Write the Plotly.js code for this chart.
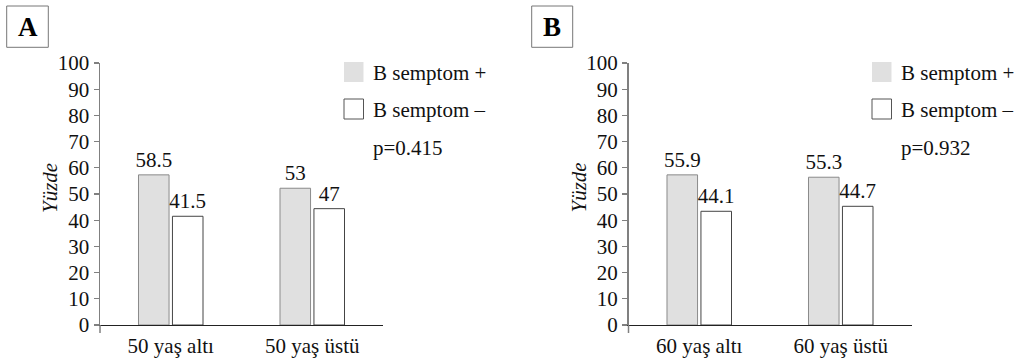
<!DOCTYPE html>
<html>
<head>
<meta charset="utf-8">
<script src="https://cdn.plot.ly/plotly-3.0.1.min.js"></script>
<style>
  html, body { margin: 0; padding: 0; background: #fff; }
  #chart { width: 1018px; height: 358px; }
</style>
</head>
<body>
<div id="chart"></div>
<script>
// ---- data ----
const categoriesA = ['50 yaş altı', '50 yaş üstü'];
const categoriesB = ['60 yaş altı', '60 yaş üstü'];
const seriesNames = ['B semptom +', 'B semptom –'];
// bar heights as drawn
const barsA_pos = [57.3, 52.2];
const barsA_neg = [41.5, 44.4];
const barsB_pos = [57.3, 56.4];
const barsB_neg = [43.4, 45.3];
// value labels as printed
const labelsA_pos = ['58.5', '53'];
const labelsA_neg = ['41.5', '47'];
const labelsB_pos = ['55.9', '55.3'];
const labelsB_neg = ['44.1', '44.7'];
const pValues = ['p=0.415', 'p=0.932'];
const panelLetters = ['A', 'B'];
const yTickVals = [0, 10, 20, 30, 40, 50, 60, 70, 80, 90, 100];
const yTitle = 'Yüzde';

// ---- layout helpers ----
const W = 1018, H = 358;
const px = x => x / W;
const py = y => 1 - y / H;
const FONT = 'Liberation Serif';
const FS = 21;
const GRAY = '#e0e0e0';

const barW = 0.216;
function barTrace(xa, ya, cats, vals, labels, isPos, name) {
  return {
    type: 'bar', x: cats, y: vals, text: labels, name: name,
    xaxis: xa, yaxis: ya,
    width: barW, offset: isPos ? -0.228 : 0.012,
    marker: { color: isPos ? GRAY : '#ffffff', line: { color: isPos ? '#8a8a8a' : '#444444', width: 1 } },
    textposition: 'outside', cliponaxis: false, constraintext: 'none',
    textfont: { family: FONT, size: FS, color: '#111' },
    showlegend: false, hoverinfo: 'skip'
  };
}

const data = [
  barTrace('x', 'y', categoriesA, barsA_pos, labelsA_pos, true, seriesNames[0]),
  barTrace('x', 'y', categoriesA, barsA_neg, labelsA_neg, false, seriesNames[1]),
  barTrace('x2', 'y2', categoriesB, barsB_pos, labelsB_pos, true, seriesNames[0]),
  barTrace('x2', 'y2', categoriesB, barsB_neg, labelsB_neg, false, seriesNames[1])
];

const yDom = [py(325), py(63)];
function xAxis(dom, anchor) {
  return {
    domain: dom, anchor: anchor, type: 'category', range: [-0.5, 1.5],
    showline: true, linecolor: '#222', linewidth: 1,
    ticks: 'outside', ticklen: 2, tickcolor: 'rgba(0,0,0,0)',
    showgrid: false, zeroline: false, fixedrange: true,
    tickfont: { family: FONT, size: FS, color: '#111' }
  };
}
function yAxis(anchor) {
  return {
    domain: yDom, anchor: anchor, range: [0, 100],
    tickvals: yTickVals, ticktext: yTickVals.map(String),
    showline: true, linecolor: '#808080', linewidth: 1.5,
    ticks: 'outside', ticklen: 5, tickcolor: '#808080', tickwidth: 1.2,
    showgrid: false, zeroline: false, fixedrange: true,
    tickfont: { family: FONT, size: FS, color: '#111' }
  };
}

const panels = [
  { axisX: 100, letterBox: [6.7, 48.3], legX: 344, txtX: 371, p: pValues[0], letter: panelLetters[0] },
  { axisX: 628.5, letterBox: [531.7, 572.7], legX: 872, txtX: 899, p: pValues[1], letter: panelLetters[1] }
];

const shapes = [];
const annotations = [];
panels.forEach(pn => {
  shapes.push({ type: 'line', xref: 'paper', yref: 'paper', x0: px(pn.axisX), x1: px(pn.axisX), y0: py(325), y1: py(333), line: { color: '#808080', width: 1.5 } });
  shapes.push({ type: 'rect', xref: 'paper', yref: 'paper', x0: px(pn.letterBox[0]), x1: px(pn.letterBox[1]), y0: py(47.3), y1: py(6), line: { color: '#777', width: 1 }, fillcolor: 'rgba(0,0,0,0)' });
  annotations.push({ xref: 'paper', yref: 'paper', x: px((pn.letterBox[0] + pn.letterBox[1]) / 2), y: py(27), text: '<b>' + pn.letter + '</b>', showarrow: false, xanchor: 'center', yanchor: 'middle', font: { family: FONT, size: 27, color: '#000' } });
  shapes.push({ type: 'rect', xref: 'paper', yref: 'paper', x0: px(pn.legX), x1: px(pn.legX + 19.5), y0: py(82), y1: py(62), line: { width: 0 }, fillcolor: GRAY });
  shapes.push({ type: 'rect', xref: 'paper', yref: 'paper', x0: px(pn.legX), x1: px(pn.legX + 19.5), y0: py(119), y1: py(99), line: { color: '#555', width: 1 }, fillcolor: '#fff' });
  annotations.push({ xref: 'paper', yref: 'paper', x: px(pn.txtX), y: py(73), text: seriesNames[0], showarrow: false, xanchor: 'left', yanchor: 'middle', font: { family: FONT, size: FS, color: '#111' } });
  annotations.push({ xref: 'paper', yref: 'paper', x: px(pn.txtX), y: py(110), text: seriesNames[1], showarrow: false, xanchor: 'left', yanchor: 'middle', font: { family: FONT, size: FS, color: '#111' } });
  annotations.push({ xref: 'paper', yref: 'paper', x: px(pn.txtX), y: py(148), text: pn.p, showarrow: false, xanchor: 'left', yanchor: 'middle', font: { family: FONT, size: FS, color: '#111' } });
  annotations.push({ xref: 'paper', yref: 'paper', x: px(pn.axisX - 50), y: py(188), text: '<i>' + yTitle + '</i>', textangle: -90, showarrow: false, xanchor: 'center', yanchor: 'middle', font: { family: FONT, size: FS, color: '#111' } });
});

const layout = {
  width: W, height: H,
  margin: { l: 0, r: 0, t: 0, b: 0 },
  paper_bgcolor: '#fff', plot_bgcolor: '#fff',
  font: { family: FONT, size: FS, color: '#111' },
  showlegend: false, barmode: 'overlay',
  xaxis: xAxis([px(100), px(383)], 'y'),
  yaxis: yAxis('x'),
  xaxis2: xAxis([px(628.5), px(911.5)], 'y2'),
  yaxis2: yAxis('x2'),
  shapes: shapes, annotations: annotations
};

Plotly.newPlot('chart', data, layout, { displayModeBar: false, staticPlot: true });
</script>
</body>
</html>
